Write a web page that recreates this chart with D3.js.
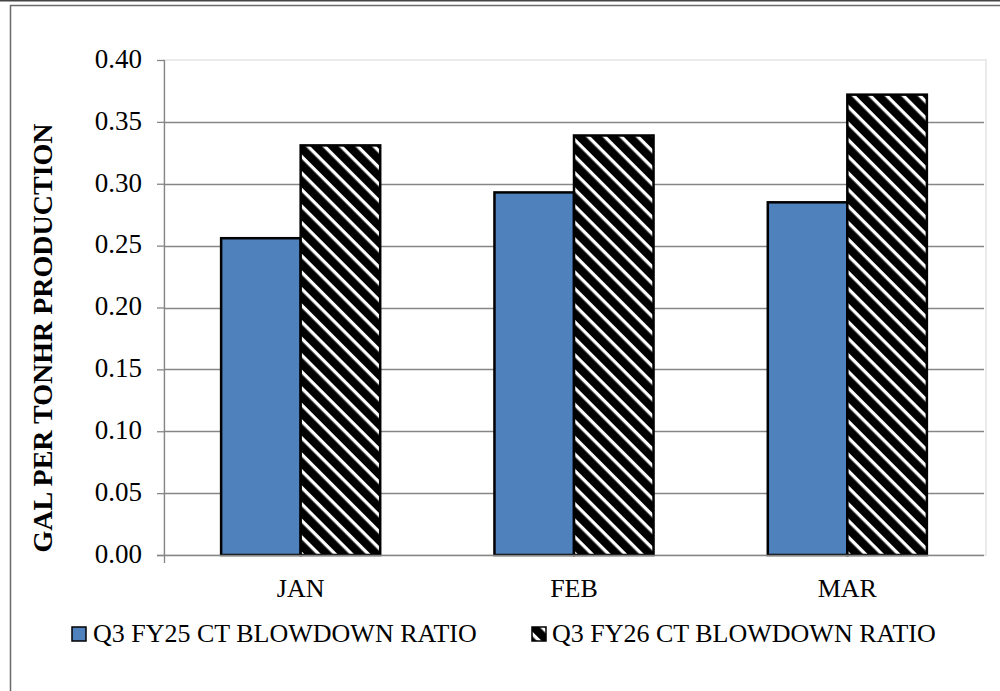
<!DOCTYPE html>
<html>
<head>
<meta charset="utf-8">
<script src="https://cdn.jsdelivr.net/npm/d3@7"></script>
<style>
  html, body { margin: 0; padding: 0; background: #fff; }
  svg { display: block; }
  text { font-family: "Liberation Serif", "Times New Roman", serif; fill: #000; }
</style>
</head>
<body>
<svg id="chart" width="1000" height="691"></svg>
<script>
const categories = ["JAN", "FEB", "MAR"];
const seriesNames = ["Q3 FY25 CT BLOWDOWN RATIO", "Q3 FY26 CT BLOWDOWN RATIO"];
const fy25Values = [0.256, 0.293, 0.285];
const fy26Values = [0.331, 0.339, 0.372];
const yTicks = [0, 0.05, 0.10, 0.15, 0.20, 0.25, 0.30, 0.35, 0.40];
const yTitle = "GAL PER TONHR PRODUCTION";

const svg = d3.select("#chart");
const W = 1000, H = 691;
const plot = { left: 164, right: 984, top: 60, bottom: 555 };

// frame
svg.append("line").attr("x1", 0).attr("x2", W).attr("y1", 0.5).attr("y2", 0.5)
  .attr("stroke", "#444").attr("stroke-width", 2);
svg.append("line").attr("x1", 10).attr("x2", W).attr("y1", 5.5).attr("y2", 5.5)
  .attr("stroke", "#6a6a6a").attr("stroke-width", 1.5);
svg.append("line").attr("x1", 10.5).attr("x2", 10.5).attr("y1", 5).attr("y2", H)
  .attr("stroke", "#6a6a6a").attr("stroke-width", 1.5);

// pattern
const defs = svg.append("defs");
const pat = defs.append("pattern").attr("id", "hatch")
  .attr("patternUnits", "userSpaceOnUse")
  .attr("width", 20).attr("height", 11.7)
  .attr("patternTransform", "rotate(45)");
pat.append("rect").attr("width", 20).attr("height", 11.7).attr("fill", "#000");
pat.append("rect").attr("y", 0).attr("width", 20).attr("height", 3.3).attr("fill", "#fff");

const y = d3.scaleLinear().domain([0, 0.40]).range([plot.bottom, plot.top]);
const x0 = d3.scaleBand().domain(categories).range([plot.left, plot.right]).padding(0);
const bw = x0.bandwidth();
const gapHalf = bw * 0.209;
const x1 = d3.scaleBand().domain(seriesNames).range([gapHalf, bw - gapHalf]).padding(0);

// plot area border (light)
svg.append("rect").attr("x", plot.left).attr("y", plot.top)
  .attr("width", plot.right - plot.left + 2).attr("height", plot.bottom - plot.top)
  .attr("fill", "none").attr("stroke", "#ebebeb").attr("stroke-width", 2);

// gridlines
svg.append("g").selectAll("line").data(yTicks.filter(t => t > 0 && t < 0.40)).join("line")
  .attr("x1", plot.left).attr("x2", plot.right)
  .attr("y1", d => Math.round(y(d)) + 0.5).attr("y2", d => Math.round(y(d)) + 0.5)
  .attr("stroke", "#868686").attr("stroke-width", 1.3);

// bars
const data = categories.map((c, i) => ({ cat: c, vals: [fy25Values[i], fy26Values[i]] }));
const groups = svg.append("g").selectAll("g").data(data).join("g")
  .attr("transform", d => `translate(${x0(d.cat)},0)`);
groups.selectAll("rect").data(d => d.vals.map((v, j) => ({ v, s: seriesNames[j], j })))
  .join("rect")
  .attr("x", d => x1(d.s))
  .attr("width", x1.bandwidth())
  .attr("y", d => y(d.v))
  .attr("height", d => y(0) - y(d.v))
  .attr("fill", d => d.j === 0 ? "#4F81BD" : "url(#hatch)")
  .attr("stroke", "#000").attr("stroke-width", 2.5);

// y axis
const yAxis = d3.axisLeft(y).tickValues(yTicks).tickFormat(d3.format(".2f")).tickSize(7).tickPadding(15);
const ya = svg.append("g").attr("transform", `translate(${plot.left},0)`).call(yAxis);
ya.select(".domain").remove();
ya.selectAll(".tick line").attr("stroke", "#868686").attr("stroke-width", 1.3);
ya.selectAll(".tick text").attr("font-size", 27).attr("dy", "0.27em")
  .attr("font-family", "Liberation Serif");
svg.append("line").attr("x1", plot.left + 0.5).attr("x2", plot.left + 0.5)
  .attr("y1", plot.top).attr("y2", plot.bottom + 8)
  .attr("stroke", "#868686").attr("stroke-width", 1.3);

// x axis
svg.append("line").attr("x1", plot.left - 7).attr("x2", plot.right)
  .attr("y1", plot.bottom + 0.5).attr("y2", plot.bottom + 0.5)
  .attr("stroke", "#868686").attr("stroke-width", 1.3);
svg.append("g").selectAll("text").data(categories).join("text")
  .attr("x", d => x0(d) + bw / 2).attr("y", 597)
  .attr("text-anchor", "middle").attr("font-size", 26).text(d => d);

// y title
svg.append("text").attr("transform", "translate(52,338) rotate(-90)")
  .attr("text-anchor", "middle").attr("font-size", 28).attr("font-weight", "bold")
  .text(yTitle);

// legend
const legendItems = [
  { name: seriesNames[0], fill: "#4F81BD", sx: 72, tx: 93 },
  { name: seriesNames[1], fill: "url(#hatch)", sx: 532, tx: 552 }
];
const lg = svg.append("g").selectAll("g").data(legendItems).join("g");
lg.append("rect").attr("x", d => d.sx).attr("y", 627).attr("width", 14).attr("height", 14)
  .attr("fill", d => d.fill).attr("stroke", "#000").attr("stroke-width", 1.5);
lg.append("text").attr("x", d => d.tx).attr("y", 642).attr("font-size", 26).text(d => d.name);
</script>
</body>
</html>
